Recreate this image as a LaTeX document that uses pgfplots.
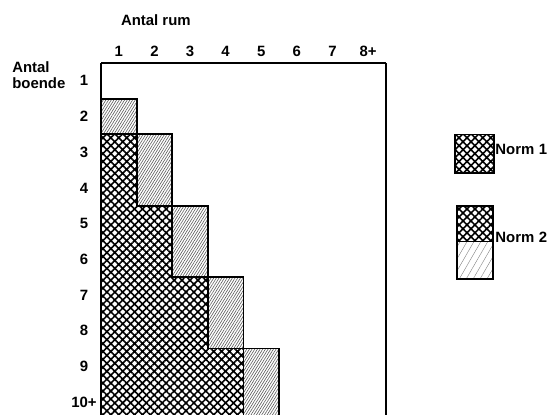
\documentclass[border=0pt]{standalone}
\usepackage{fontspec}
\setmainfont{Liberation Sans}
\usepackage{pgfplots}
\pgfplotsset{compat=1.18}
\usetikzlibrary{patterns.meta}
\newcommand\lbl{\fontsize{11.2}{12}\selectfont\bfseries}
\tikzset{
  crossp/.style={pattern={Hatch[angle=45,distance=4.2pt,line width=1.2pt]},pattern color=black},
  hatchp/.style={pattern={Lines[angle=58,distance=1.7pt,line width=0.45pt]},pattern color=black!65},
  lightp/.style={pattern={Lines[angle=60,distance=4.5pt,line width=0.3pt]},pattern color=black!50},
}
\begin{document}
\begin{tikzpicture}
\begin{axis}[
  scale only axis,
  width=213.75pt, height=264pt,
  xmin=0.5, xmax=8.5, ymin=0.5, ymax=10.36,
  y dir=reverse,
  axis x line*=top,
  axis y line*=box,
  axis line style={line width=1.4pt},
  major tick length=0pt,
  xtick={1,2,3,4,5,6,7,8},
  xticklabels={1,2,3,4,5,6,7,8+},
  ytick={1,2,3,4,5,6,7,8,9,10},
  yticklabels={1,2,3,4,5,6,7,8,9,10+},
  /pgf/number format/assume math mode=true,
  xticklabel style={font=\lbl, anchor=south, yshift=1.5pt},
  yticklabel style={font=\lbl, anchor=center, xshift=-12.75pt},
  clip mode=individual,
]
% Norm 2 extra (hatched)
\addplot[hatchp, draw=black, line width=1.4pt] coordinates {
  (0.5,1.5) (1.5,1.5) (1.5,2.5) (2.5,2.5) (2.5,4.5) (3.5,4.5) (3.5,6.5) (4.5,6.5) (4.5,8.5) (5.5,8.5) (5.5,11)
  (4.5,11) (4.5,8.5) (3.5,8.5) (3.5,6.5) (2.5,6.5) (2.5,4.5) (1.5,4.5) (1.5,2.5) (0.5,2.5)
} -- cycle;
% Norm 1 (crosshatch)
\addplot[crossp, draw=black, line width=1.4pt] coordinates {
  (0.5,11) (0.5,2.5) (1.5,2.5) (1.5,4.5) (2.5,4.5) (2.5,6.5) (3.5,6.5) (3.5,8.5) (4.5,8.5) (4.5,11)
} -- cycle;
\draw[line width=1.4pt] (axis cs:0.5,0.5) -- (axis cs:0.5,10.36);
% titles
\node[font=\lbl, anchor=center] at (axis cs:2.04,-0.70) {Antal rum};
\node[font=\lbl, anchor=west, align=left, inner sep=0pt] at (axis cs:-2.0,0.85) {Antal\\boende};
% legend
\draw[crossp, draw=black, line width=1.2pt] (axis cs:10.44,2.5) rectangle (axis cs:11.54,3.58);
\node[font=\lbl, anchor=west, inner sep=0pt] at (axis cs:11.57,2.92) {Norm\hspace{0.3em}1};
\draw[lightp, draw=black, line width=1.2pt] (axis cs:10.5,5.5) rectangle (axis cs:11.51,6.55);
\draw[crossp, draw=black, line width=1.2pt] (axis cs:10.5,4.5) rectangle (axis cs:11.51,5.5);
\node[font=\lbl, anchor=west, inner sep=0pt] at (axis cs:11.57,5.4) {Norm\hspace{0.3em}2};
\coordinate (bbA) at (axis cs:-2.337,-1.265);
\coordinate (bbB) at (axis cs:13.11,10.36);
\end{axis}
\pgfresetboundingbox
\path[use as bounding box] (bbA) rectangle (bbB);
\end{tikzpicture}
\end{document}
